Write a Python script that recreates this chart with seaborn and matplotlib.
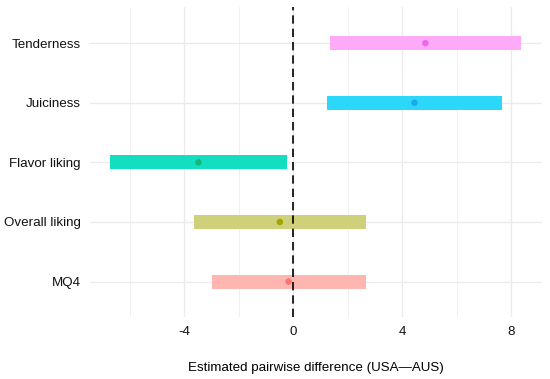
import numpy as np
import matplotlib
matplotlib.use("Agg")
import matplotlib.pyplot as plt
import seaborn as sns

# data (top to bottom)
traits = ['Tenderness', 'Juiciness', 'Flavor liking', 'Overall liking', 'MQ4']
estimate = [4.85, 4.45, -3.48, -0.49, -0.17]
lower = [1.35, 1.25, -6.71, -3.64, -2.99]
upper = [8.37, 7.66, -0.23, 2.67, 2.66]

bar_cols = ['#FDAAF9', '#2BD8FA', '#13DEBF', '#CFD07A', '#FFB6B1']
pt_cols = ['#F066EA', '#1AA9F0', '#14B87F', '#A3A500', '#F8766D']

sns.set_theme(style='whitegrid')
plt.rcParams['font.family'] = ['Liberation Sans', 'DejaVu Sans']

fig = plt.figure(figsize=(5.5, 3.79), dpi=100)
ax = fig.add_axes([0.1636, 0.1628, 0.8214, 0.8177])

ypos = np.arange(len(traits))
ax.barh(ypos, np.array(upper) - np.array(lower), left=lower, height=0.235,
        color=bar_cols, linewidth=0, zorder=2)
sns.scatterplot(x=estimate, y=ypos, hue=traits, palette=pt_cols, s=22,
                linewidth=0, legend=False, ax=ax, zorder=3)
ax.axvline(0, color='black', linewidth=1.2, dashes=(5, 3), zorder=4)

ax.set_xlim(-7.46, 9.12)
ax.set_ylim(4.6, -0.6)
ax.set_yticks(ypos)
ax.set_yticklabels(traits)
ax.set_xticks([-4, 0, 4, 8])
ax.set_xticklabels(['-4', '0', '4', '8'])
ax.set_xticks([-6, -2, 2, 6], minor=True)

for s in ax.spines.values():
    s.set_visible(False)
ax.set_facecolor('white')
ax.grid(True, which='major', color='#EBEBEB', linewidth=1.0)
ax.grid(True, which='minor', axis='x', color='#F0F0F0', linewidth=0.7)
ax.set_axisbelow(True)
ax.tick_params(axis='both', which='both', length=0, labelsize=9.6,
               labelcolor='#111111')
ax.tick_params(axis='y', pad=6.5)
ax.tick_params(axis='x', pad=6.5)

ax.set_xlabel('Estimated pairwise difference (USA\u2014AUS)', fontsize=9.6,
              color='black', labelpad=17)
ax.set_ylabel('')

fig.savefig('out.png', dpi=100)
